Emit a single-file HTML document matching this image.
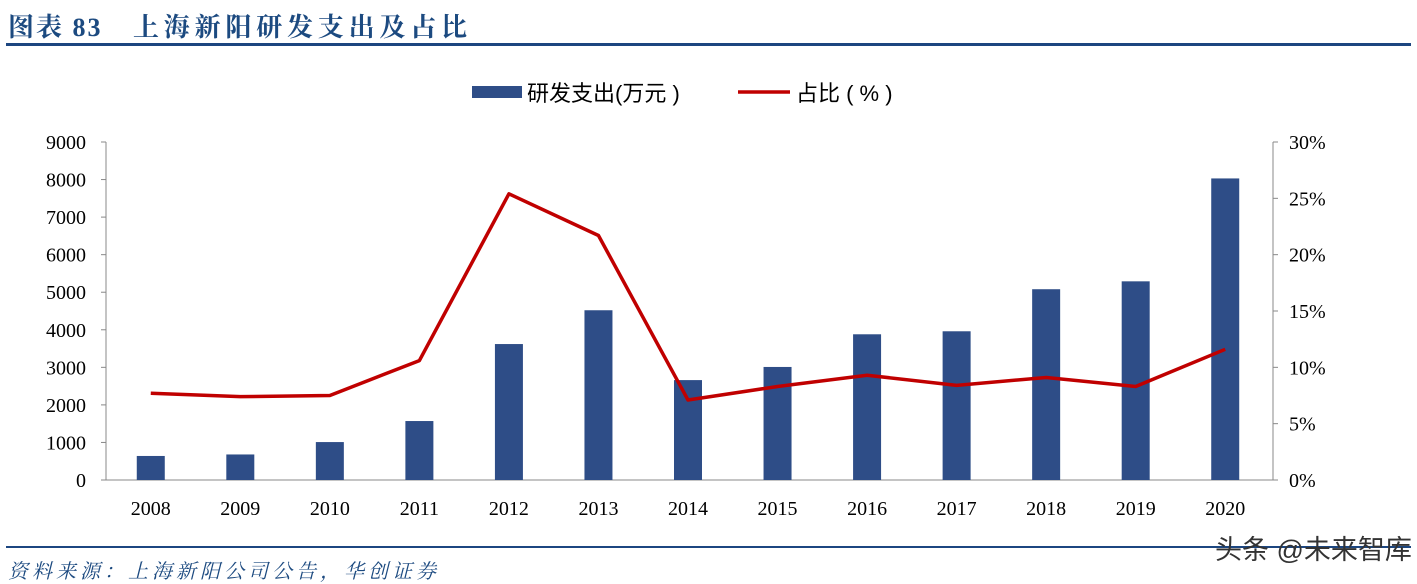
<!DOCTYPE html>
<html><head><meta charset="utf-8"><style>
body{margin:0;width:1417px;height:584px;background:#fff;overflow:hidden;position:relative;font-family:"Liberation Serif","Noto Serif CJK SC",serif}
.t{position:absolute;white-space:nowrap}
</style></head><body>
<div class="t" style="left:8px;top:7px;font-size:26px;font-weight:bold;color:#1c4a80;letter-spacing:2px;font-family:'Liberation Serif','Noto Serif CJK SC',serif">图表 83</div>
<div class="t" style="left:133px;top:7px;font-size:26px;font-weight:bold;color:#1c4a80;letter-spacing:4.8px;font-family:'Liberation Serif','Noto Serif CJK SC',serif">上海新阳研发支出及占比</div>
<div style="position:absolute;left:6px;top:43px;width:1405px;height:3px;background:#1c4680"></div>
<div style="position:absolute;left:6px;top:546px;width:1405px;height:2px;background:#1c4680"></div>
<div class="t" style="left:8px;top:555px;font-size:20px;letter-spacing:4px;font-style:italic;color:#1c4a80;font-family:'Liberation Serif','Noto Serif CJK SC',serif">资料来源：上海新阳公司公告，华创证券</div>
<div class="t" style="left:1215px;top:528px;font-size:27px;color:#333;font-family:'Liberation Sans','Noto Sans CJK SC',sans-serif">头条 @未来智库</div>
<svg id="c" width="1417" height="584" style="position:absolute;left:0;top:0"></svg>
<script>
const categories=["2008","2009","2010","2011","2012","2013","2014","2015","2016","2017","2018","2019","2020"];
const rdSpend=[640,680,1010,1570,3620,4520,2660,3010,3880,3960,5080,5290,8030];
const rdRatio=[7.7,7.4,7.5,10.6,25.4,21.7,7.1,8.3,9.3,8.4,9.1,8.3,11.6];
const leftTicks=[0,1000,2000,3000,4000,5000,6000,7000,8000,9000];
const rightTicks=[0,5,10,15,20,25,30];
const NS="http://www.w3.org/2000/svg";
const svg=document.getElementById('c');
const X0=106,X1=1270,Y0=480,Y1=142;
const bw=(X1-X0)/categories.length;
const xc=i=>X0+bw*(i+0.5);
const yL=v=>Y0-(v/9000)*(Y0-Y1);
const yR=v=>Y0-(v/30)*(Y0-Y1);
function mk(tag,a,txt){const e=document.createElementNS(NS,tag);for(const k in a)e.setAttribute(k,a[k]);if(txt!=null)e.textContent=txt;svg.appendChild(e);return e;}
let e;
e=mk('line',{x1:X0,y1:Y1,x2:X0,y2:Y0,stroke:'#888','stroke-width':1});


e=mk('line',{x1:X1+3,y1:Y1,x2:X1+3,y2:Y0,stroke:'#888','stroke-width':1});


e=mk('line',{x1:X0,y1:Y0,x2:X1+3,y2:Y0,stroke:'#888','stroke-width':1});


leftTicks.forEach(v=>{
 e=mk('line',{x1:X0-5,y1:yL(v),x2:X0,y2:yL(v),stroke:'#888'});
 
 
 e=mk('text',{x:86,y:yL(v)+7,'text-anchor':'end','font-size':20,fill:'#000'},v);
 
 
});
rightTicks.forEach(v=>{
 e=mk('line',{x1:X1+3,y1:yR(v),x2:X1+8,y2:yR(v),stroke:'#888'});
 
 
 e=mk('text',{x:1289,y:yR(v)+7,'font-size':20,fill:'#000'},v+'%');
 
 
});
categories.forEach((c,i)=>{
 e=mk('rect',{x:xc(i)-14,y:yL(rdSpend[i]),width:28,height:Y0-yL(rdSpend[i]),fill:'#2e4d87'});
 
 
 e=mk('text',{x:xc(i),y:515,'text-anchor':'middle','font-size':20,fill:'#000'},c);
 
 
});
e=mk('polyline',{points:rdRatio.map((v,i)=>xc(i)+','+yR(v)).join(' '),fill:'none',stroke:'#c00000','stroke-width':3.5,'stroke-linejoin':'round'});


e=mk('rect',{x:472,y:86,width:50,height:12,fill:'#2e4d87'});


e=mk('text',{x:527,y:101,'font-size':22,fill:'#000','font-family':"'Liberation Sans','Noto Sans CJK SC',sans-serif"},'研发支出(万元 )');


e=mk('line',{x1:738,y1:92,x2:790,y2:92,stroke:'#c00000','stroke-width':3.5});


e=mk('text',{x:796,y:101,'font-size':22,fill:'#000','font-family':"'Liberation Sans','Noto Sans CJK SC',sans-serif"},'占比 ( % )');


</script>
</body></html>
